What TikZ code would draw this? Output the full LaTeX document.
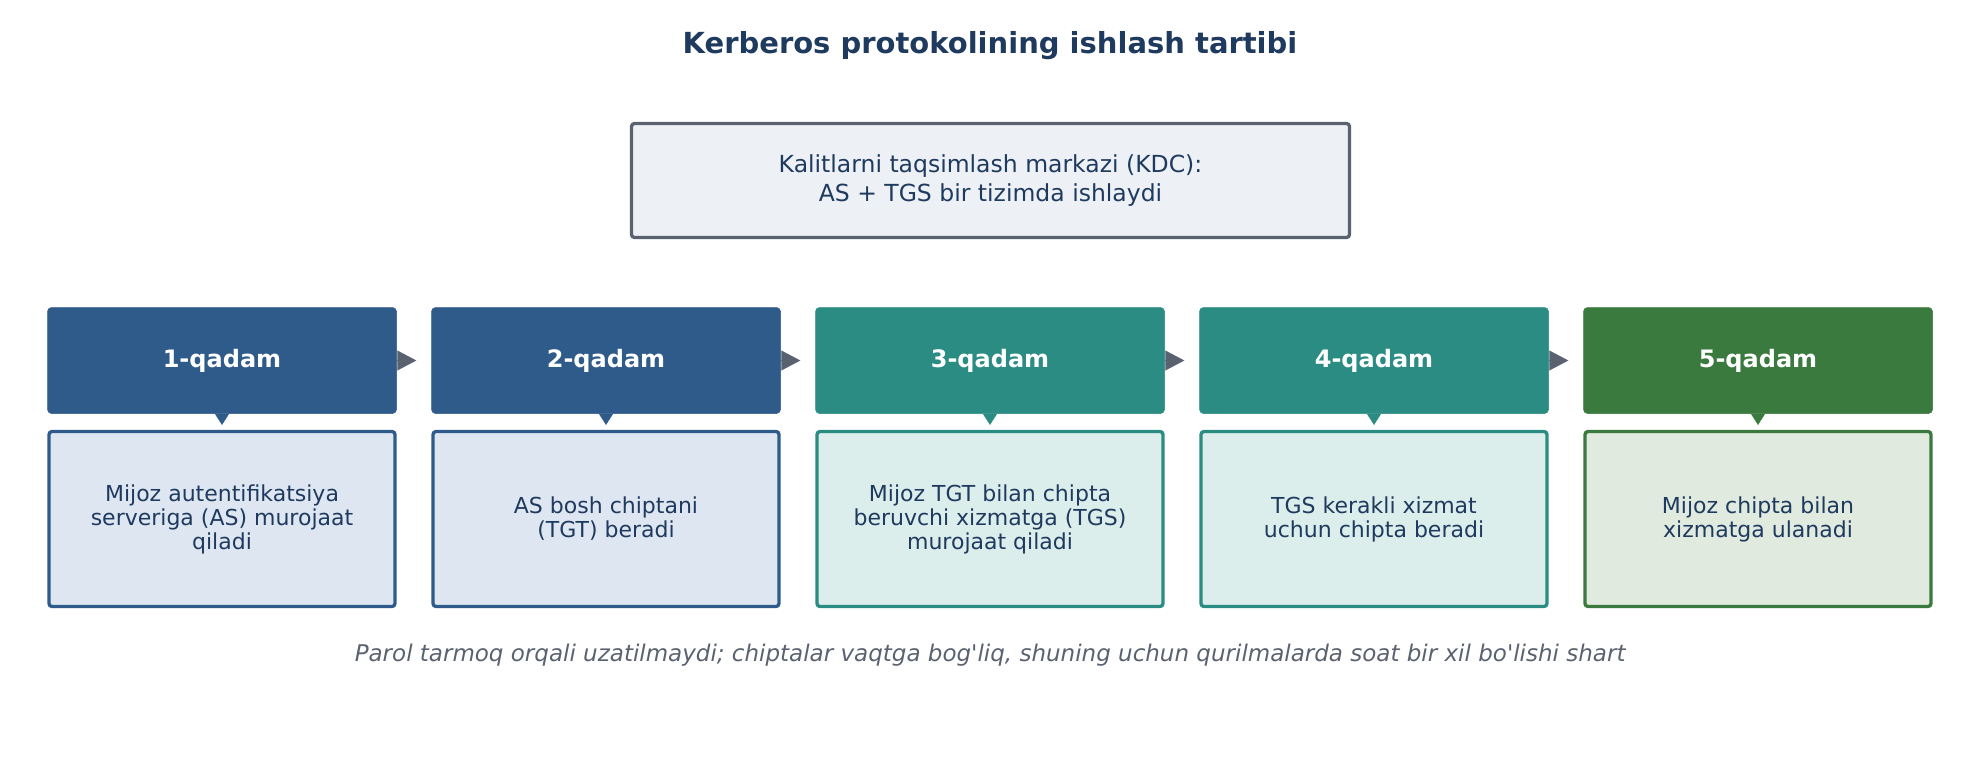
\documentclass[tikz,border=0pt]{standalone}
\usepackage{fontspec}
\setmainfont{DejaVu Sans}[Ligatures=TeXOff]
\usetikzlibrary{arrows.meta}
\definecolor{navy}{HTML}{1F3A5F}
\definecolor{slate}{HTML}{5A6270}
\definecolor{cblue}{HTML}{2E5B8A}
\definecolor{cteal}{HTML}{2A8C82}
\definecolor{cgreen}{HTML}{3A7A3E}
\definecolor{lblue}{HTML}{DEE7F1}
\definecolor{lteal}{HTML}{DCEEEB}
\definecolor{lgreen}{HTML}{E0EADE}
\definecolor{kdcfill}{HTML}{EDF1F6}
\tikzset{
  head/.style={fill=#1, draw=#1, line width=0.5pt, rounded corners=4pt, minimum width=349pt, minimum height=106pt, inner sep=0pt, text=white, font=\fontsize{24}{28}\selectfont\bfseries},
  body/.style={draw=#1, line width=3.3pt, rounded corners=3pt, minimum width=346pt, minimum height=175pt, inner sep=0pt, text=navy, align=center, font=\fontsize{22}{24}\selectfont},
  flow/.style={draw=slate, line width=0.1pt, -{Triangle[length=19pt,width=20pt]}, fill=slate, shorten >=15pt},
  drop/.style={draw=#1, line width=0.1pt, -{Triangle[length=11pt,width=14pt]}, fill=#1, shorten >=5pt},
}
\begin{document}
\begin{tikzpicture}[x=1pt,y=-1pt]
\useasboundingbox (0,0) rectangle (1979,760);
\node[text=navy, font=\fontsize{29}{34}\selectfont\bfseries] (title) at (990,46) {Kerberos protokolining ishlash tartibi};
\node[draw=slate, fill=kdcfill, line width=3.3pt, rounded corners=3pt, minimum width=718pt, minimum height=114pt, align=center, text=navy, font=\fontsize{23.5}{29}\selectfont] (kdc) at (990.5,180.5) {Kalitlarni taqsimlash markazi (KDC):\\AS + TGS bir tizimda ishlaydi};

\node[head=cblue] (h1) at (222,360.5) {1-qadam};
\node[head=cblue] (h2) at (606,360.5) {2-qadam};
\node[head=cteal] (h3) at (990,360.5) {3-qadam};
\node[head=cteal] (h4) at (1374,360.5) {4-qadam};
\node[head=cgreen] (h5) at (1758,360.5) {5-qadam};

\node[body=cblue, fill=lblue] (b1) at (222,519) {Mijoz autentifikatsiya\\serveriga (AS) murojaat\\qiladi};
\node[body=cblue, fill=lblue] (b2) at (606,519) {AS bosh chiptani\\(TGT) beradi};
\node[body=cteal, fill=lteal] (b3) at (990,519) {Mijoz TGT bilan chipta\\beruvchi xizmatga (TGS)\\murojaat qiladi};
\node[body=cteal, fill=lteal] (b4) at (1374,519) {TGS kerakli xizmat\\uchun chipta beradi};
\node[body=cgreen, fill=lgreen] (b5) at (1758,519) {Mijoz chipta bilan\\xizmatga ulanadi};

\draw[flow] (h1.east) -- (h2.west);
\draw[flow] (h2.east) -- (h3.west);
\draw[flow] (h3.east) -- (h4.west);
\draw[flow] (h4.east) -- (h5.west);

\draw[drop=cblue] (h1.south) -- (b1.north);
\draw[drop=cblue] (h2.south) -- (b2.north);
\draw[drop=cteal] (h3.south) -- (b3.north);
\draw[drop=cteal] (h4.south) -- (b4.north);
\draw[drop=cgreen] (h5.south) -- (b5.north);

\node[text=slate, font=\fontsize{23}{27}\selectfont\itshape] (note) at (990,655) {Parol tarmoq orqali uzatilmaydi; chiptalar vaqtga bog'liq, shuning uchun qurilmalarda soat bir xil bo'lishi shart};
\end{tikzpicture}
\end{document}
